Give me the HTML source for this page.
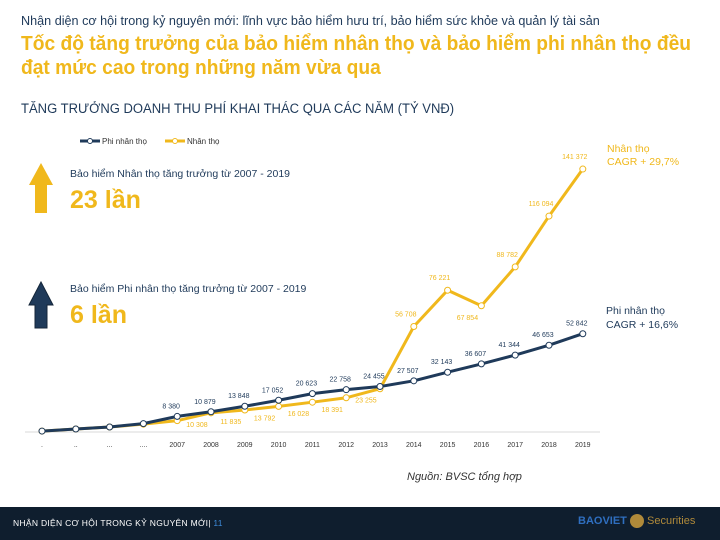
<!DOCTYPE html>
<html><head><meta charset="utf-8"><style>
body{margin:0;width:720px;height:540px;overflow:hidden;background:#fff;font-family:"Liberation Sans","DejaVu Sans",sans-serif;position:relative}
.a{position:absolute;white-space:nowrap}
</style></head><body>
<div class="a" style="left:21px;top:14px;font-size:12.5px;color:#1f3a5a;transform:scaleX(1.01);transform-origin:left">Nhận diện cơ hội trong kỷ nguyên mới: lĩnh vực bảo hiểm hưu trí, bảo hiểm sức khỏe và quản lý tài sản</div>
<div class="a" style="left:21px;top:32px;font-size:20.5px;color:#f0b81c;line-height:24px;font-weight:bold;transform:scaleX(0.937);transform-origin:left">Tốc độ tăng trưởng của bảo hiểm nhân thọ và bảo hiểm phi nhân thọ đều<br>đạt mức cao trong những năm vừa qua</div>
<div class="a" style="left:21px;top:101px;font-size:13.5px;color:#1f3a5a;transform:scaleX(0.966);transform-origin:left">TĂNG TRƯỞNG DOANH THU PHÍ KHAI THÁC QUA CÁC NĂM (TỶ VNĐ)</div>
<svg class="a" style="left:0;top:0" width="720" height="540">
<g font-size="8" fill="#333">
<line x1="80" y1="141" x2="100" y2="141" stroke="#1f3a5a" stroke-width="3"/><circle cx="90" cy="141" r="2.5" fill="#fff" stroke="#1f3a5a"/><text x="102" y="144">Phi nhân thọ</text>
<line x1="165" y1="141" x2="185" y2="141" stroke="#f0b81c" stroke-width="3"/><circle cx="175" cy="141" r="2.5" fill="#fff" stroke="#f0b81c"/><text x="187" y="144">Nhân thọ</text>
</g>
<polygon points="41,163 53,185 47,185 47,213 35,213 35,185 29,185" fill="#f0b81c"/>
<polygon points="41,282 53,305 47,305 47,328 35,328 35,305 29,305" fill="#1f3a5a" stroke="#14263a"/>
<text x="70" y="177" font-size="10.5" fill="#1f3a5a">Bảo hiểm Nhân thọ tăng trưởng từ 2007 - 2019</text>
<text x="70" y="208" font-size="25" font-weight="bold" fill="#f0b81c">23 lần</text>
<text x="70" y="292" font-size="10.5" fill="#1f3a5a">Bảo hiểm Phi nhân thọ tăng trưởng từ 2007 - 2019</text>
<text x="70" y="323" font-size="25" font-weight="bold" fill="#f0b81c">6 lần</text>
<text x="607" y="152" font-size="10.5" fill="#f0b81c"><tspan x="607">Nhân thọ</tspan><tspan x="607" dy="13">CAGR + 29,7%</tspan></text>
<text x="606" y="314" font-size="10.5" fill="#1f3a5a"><tspan x="606">Phi nhân thọ</tspan><tspan x="606" dy="14">CAGR + 16,6%</tspan></text>
<line x1="25" y1="432" x2="600" y2="432" stroke="#d9d9d9"/>
<g id="plot"></g>
</svg>
<div class="a" style="left:407px;top:471px;font-size:11px;font-style:italic;color:#333">Nguồn: BVSC tổng hợp</div>
<div class="a" style="left:0;top:507px;width:720px;height:33px;background:#0f1e2e">
<div class="a" style="left:13px;top:11px;font-size:8.5px;color:#fff;letter-spacing:0.3px">NHẬN DIỆN CƠ HỘI TRONG KỶ NGUYÊN MỚI| <span style="color:#3d8bd9">11</span></div>
<div class="a" style="left:578px;top:7px;font-size:11px;font-weight:bold;color:#2f6fc0">BAOVIET <span style="display:inline-block;width:14px;height:14px;border-radius:7px;background:#b08a3a;vertical-align:middle"></span> <span style="color:#b08a3a;font-weight:normal">Securities</span></div>
</div>
<script>
const categories=[".","..","...","....","2007","2008","2009","2010","2011","2012","2013","2014","2015","2016","2017","2018","2019"];
const nonLife=[500,1600,2700,4500,8380,10879,13848,17052,20623,22758,24455,27507,32143,36607,41344,46653,52842];
const life=[500,1600,2700,4200,6100,10308,11835,13792,16028,18391,23255,56708,76221,67854,88782,116094,141372];
const nonLifeLabels=["","","","","8 380","10 879","13 848","17 052","20 623","22 758","24 455","27 507","32 143","36 607","41 344","46 653","52 842"];
const lifeLabels=["","","","","","10 308","11 835","13 792","16 028","18 391","23 255","56 708","76 221","67 854","88 782","116 094","141 372"];
const ns="http://www.w3.org/2000/svg";
const X=i=>42+i*33.8, Y=v=>432-v*0.00186;
const g=document.getElementById('plot');
function mk(t,a){const e=document.createElementNS(ns,t);for(const k in a)e.setAttribute(k,a[k]);g.appendChild(e);return e;}
categories.forEach((c,i)=>{const t=mk('text',{x:X(i),y:447,'font-size':7,'text-anchor':'middle',fill:'#333'});t.textContent=c;

});
function series(vals,col,name){
const p=mk('polyline',{points:vals.map((v,i)=>X(i)+','+Y(v)).join(' '),fill:'none',stroke:col,'stroke-width':3});


vals.forEach((v,i)=>{const c=mk('circle',{cx:X(i),cy:Y(v),r:3,fill:'#fff',stroke:col});

});}
series(life,'#f0b81c','life');
series(nonLife,'#1f3a5a','nonlife');
nonLife.forEach((v,i)=>{if(!nonLifeLabels[i])return;const t=mk('text',{x:X(i)-6,y:Y(v)-8,'font-size':7,'text-anchor':'middle',fill:'#1f3a5a'});t.textContent=nonLifeLabels[i];

});
life.forEach((v,i)=>{if(!lifeLabels[i])return;const big=i>=11&&i!=13;const t=mk('text',{x:X(i)-(big?8:14),y:big?Y(v)-10:Y(v)+14,'font-size':7,'text-anchor':'middle',fill:'#f0b81c'});t.textContent=lifeLabels[i];

});
</script>
</body></html>
